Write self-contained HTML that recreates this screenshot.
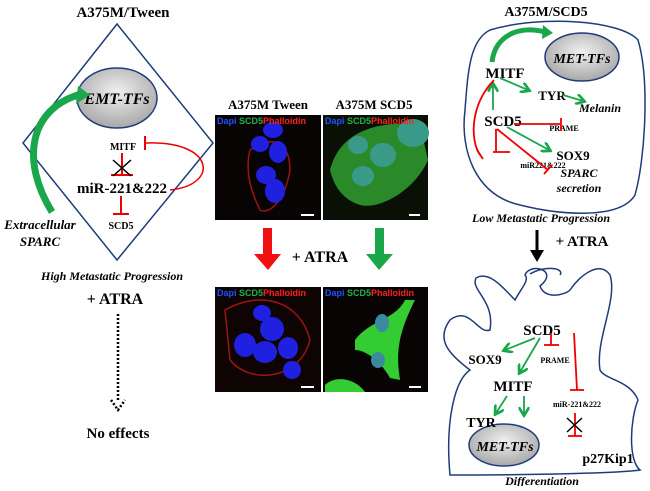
<!DOCTYPE html>
<html><head><style>
body{margin:0;width:650px;height:486px;background:#fff;overflow:hidden;font-family:"Liberation Serif",serif}
</style></head><body>
<svg width="650" height="486" viewBox="0 0 650 486" font-family="Liberation Serif, serif" font-weight="bold">
<defs>
<radialGradient id="g" cx="50%" cy="40%" r="60%"><stop offset="0" stop-color="#f0f0f0"/><stop offset="1" stop-color="#a8a8a8"/></radialGradient>
<marker id="ga" markerWidth="6" markerHeight="6" refX="4" refY="3" orient="auto"><path d="M0,0 L5,3 L0,6" fill="none" stroke="#1aa64a" stroke-width="1.5"/></marker>
<marker id="rt" markerWidth="4" markerHeight="12" refX="2" refY="6" orient="auto"><path d="M2,0 L2,12" stroke="#e00" stroke-width="2.5"/></marker>
<radialGradient id="cellB" cx="50%" cy="50%" r="50%"><stop offset="0" stop-color="#3030ff"/><stop offset="1" stop-color="#1010c0"/></radialGradient>
</defs>
<!-- LEFT -->
<text x="123" y="17" text-anchor="middle" font-size="15">A375M/Tween</text>
<polygon points="117,24 213,143 117,260 23,143" fill="none" stroke="#1f3c7a" stroke-width="1.5"/>
<ellipse cx="117" cy="98" rx="40" ry="30" fill="url(#g)" stroke="#1f3c7a" stroke-width="1.5"/>
<text x="117" y="104" text-anchor="middle" font-size="16" font-style="italic">EMT-TFs</text>
<path d="M52,212 C20,160 30,110 78,95" fill="none" stroke="#1aa64a" stroke-width="7"/>
<polygon points="78,86 90,95 76,104" fill="#1aa64a"/>
<text x="123" y="150" text-anchor="middle" font-size="10">MITF</text>
<line x1="122" y1="153" x2="122" y2="175" stroke="#e00" stroke-width="2"/>
<line x1="111" y1="175" x2="133" y2="175" stroke="#e00" stroke-width="2"/>
<path d="M113,160 L131,176 M131,160 L113,176" stroke="#000" stroke-width="1.5"/>
<text x="122" y="193" text-anchor="middle" font-size="15">miR-221&amp;222</text>
<path d="M170,190 C220,185 215,140 145,143" fill="none" stroke="#e00" stroke-width="1.5"/>
<line x1="145" y1="136" x2="145" y2="150" stroke="#e00" stroke-width="2"/>
<line x1="121" y1="196" x2="121" y2="214" stroke="#e00" stroke-width="2"/>
<line x1="113" y1="214" x2="129" y2="214" stroke="#e00" stroke-width="2"/>
<text x="121" y="229" text-anchor="middle" font-size="10">SCD5</text>
<text x="40" y="229" text-anchor="middle" font-size="13" font-style="italic">Extracellular</text>
<text x="40" y="246" text-anchor="middle" font-size="13" font-style="italic">SPARC</text>
<text x="112" y="280" text-anchor="middle" font-size="12" font-style="italic">High Metastatic Progression</text>
<text x="115" y="304" text-anchor="middle" font-size="16">+ ATRA</text>
<line x1="118" y1="314" x2="118" y2="402" stroke="#000" stroke-width="2.5" stroke-dasharray="2,2"/>
<path d="M111,400 L118,410 L125,400" fill="none" stroke="#000" stroke-width="2.5" stroke-dasharray="2,2"/>
<text x="118" y="438" text-anchor="middle" font-size="15">No effects</text>
<!-- MIDDLE -->
<text x="268" y="109" text-anchor="middle" font-size="13">A375M Tween</text>
<text x="374" y="109" text-anchor="middle" font-size="13">A375M SCD5</text>
<rect x="215" y="115" width="106" height="105" fill="#080404"/>
<rect x="323" y="115" width="105" height="105" fill="#0a1005"/>
<rect x="215" y="287" width="106" height="105" fill="#0e0404"/>
<rect x="323" y="287" width="105" height="105" fill="#080404"/>
<g stroke="#c01818" stroke-width="1.5" fill="none" opacity=".8">
<path d="M250,150 C270,135 290,140 290,170 C285,200 270,215 260,210 C250,190 245,170 250,150"/>
<path d="M225,310 C260,290 300,300 310,340 C300,380 250,385 230,360 Z"/>
</g>
<g fill="#2020e0">
<ellipse cx="273" cy="130" rx="10" ry="8"/><ellipse cx="278" cy="152" rx="9" ry="11"/><ellipse cx="260" cy="144" rx="9" ry="8"/><ellipse cx="266" cy="175" rx="10" ry="9"/><ellipse cx="275" cy="191" rx="10" ry="12"/>
<ellipse cx="245" cy="345" rx="11" ry="12"/><ellipse cx="272" cy="329" rx="12" ry="12"/><ellipse cx="288" cy="348" rx="10" ry="11"/><ellipse cx="265" cy="352" rx="12" ry="11"/><ellipse cx="262" cy="313" rx="9" ry="8"/><ellipse cx="292" cy="370" rx="9" ry="9"/>
</g>
<path d="M330,170 C340,130 380,120 420,125 L428,160 C415,190 380,210 360,205 C345,200 335,190 330,170Z" fill="#2a8a2a"/>
<g fill="#3a9a8a"><ellipse cx="413" cy="133" rx="16" ry="14"/><ellipse cx="383" cy="155" rx="13" ry="12"/><ellipse cx="363" cy="176" rx="11" ry="10"/><ellipse cx="358" cy="145" rx="10" ry="9"/></g>
<path d="M355,340 C370,320 395,320 405,300 L415,300 C400,330 395,350 400,380 L390,378 C380,360 365,350 355,350Z" fill="#33cc33"/>
<path d="M325,385 C335,375 355,378 365,392 L325,392Z" fill="#33cc33"/>
<g fill="#3a8aa0"><ellipse cx="382" cy="323" rx="7" ry="9"/><ellipse cx="378" cy="360" rx="7" ry="8"/></g>
<g font-size="9" font-family="Liberation Sans, sans-serif" font-weight="bold">
<text x="217" y="124"><tspan fill="#2050ff">Dapi </tspan><tspan fill="#20b050">SCD5</tspan><tspan fill="#ff2020">Phalloidin</tspan></text>
<text x="325" y="124"><tspan fill="#2050ff">Dapi </tspan><tspan fill="#20b050">SCD5</tspan><tspan fill="#ff2020">Phalloidin</tspan></text>
<text x="217" y="296"><tspan fill="#2050ff">Dapi </tspan><tspan fill="#20b050">SCD5</tspan><tspan fill="#ff2020">Phalloidin</tspan></text>
<text x="325" y="296"><tspan fill="#2050ff">Dapi </tspan><tspan fill="#20b050">SCD5</tspan><tspan fill="#ff2020">Phalloidin</tspan></text>
</g>
<g stroke="#fff" stroke-width="2"><line x1="301" y1="215" x2="314" y2="215"/><line x1="409" y1="215" x2="420" y2="215"/><line x1="301" y1="387" x2="314" y2="387"/><line x1="409" y1="387" x2="421" y2="387"/></g>
<polygon points="263,228 272,228 272,254 281,254 268,270 254,254 263,254" fill="#f01010"/>
<polygon points="375,228 384,228 384,254 393,254 379,270 366,254 375,254" fill="#1aa64a"/>
<text x="320" y="262" text-anchor="middle" font-size="16">+ ATRA</text>
<!-- RIGHT TOP -->
<text x="546" y="16" text-anchor="middle" font-size="14">A375M/SCD5</text>
<path d="M490,30 C540,15 620,20 638,40 C650,80 645,160 635,195 C620,220 560,215 520,205 C475,195 460,150 465,110 C468,70 470,40 490,30Z" fill="none" stroke="#1f3c7a" stroke-width="1.5"/>
<ellipse cx="582" cy="57" rx="37" ry="24" fill="url(#g)" stroke="#1f3c7a" stroke-width="1.5"/>
<text x="582" y="63" text-anchor="middle" font-size="14" font-style="italic">MET-TFs</text>
<path d="M492,62 C495,35 520,25 545,32" fill="none" stroke="#1aa64a" stroke-width="5"/>
<polygon points="543,25 553,33 542,39" fill="#1aa64a"/>
<text x="505" y="78" text-anchor="middle" font-size="15">MITF</text>
<text x="552" y="100" text-anchor="middle" font-size="13">TYR</text>
<text x="600" y="112" text-anchor="middle" font-size="12" font-style="italic">Melanin</text>
<text x="503" y="126" text-anchor="middle" font-size="15">SCD5</text>
<text x="564" y="131" text-anchor="middle" font-size="8">PRAME</text>
<text x="573" y="160" text-anchor="middle" font-size="13">SOX9</text>
<text x="543" y="168" text-anchor="middle" font-size="8">miR221&amp;222</text>
<text x="579" y="177" text-anchor="middle" font-size="12" font-style="italic">SPARC</text>
<text x="579" y="192" text-anchor="middle" font-size="12" font-style="italic">secretion</text>
<g stroke="#1aa64a" stroke-width="1.8" fill="none" marker-end="url(#ga)">
<line x1="493" y1="110" x2="493" y2="85"/><line x1="500" y1="78" x2="528" y2="90"/><line x1="563" y1="95" x2="583" y2="101"/><line x1="507" y1="127" x2="549" y2="150"/>
</g>
<g stroke="#e00" stroke-width="1.8" fill="none">
<path d="M494,80 C470,105 470,140 480,155"/><line x1="477" y1="150" x2="483" y2="159"/>
<path d="M496,129 L496,152 L493,152 L510,152"/><line x1="514" y1="124" x2="560" y2="124"/><line x1="561" y1="118" x2="561" y2="131"/>
<line x1="497" y1="129" x2="548" y2="170"/><line x1="544" y1="174" x2="552" y2="165"/>
</g>
<text x="541" y="222" text-anchor="middle" font-size="12" font-style="italic">Low Metastatic Progression</text>
<line x1="537" y1="230" x2="537" y2="254" stroke="#000" stroke-width="3"/>
<polygon points="530,250 544,250 537,262" fill="#000"/>
<text x="582" y="246" text-anchor="middle" font-size="15">+ ATRA</text>
<!-- RIGHT BOTTOM -->
<path d="M450,475 C445,420 455,380 470,370 C450,355 435,340 450,320 C470,305 478,335 490,330 C495,300 470,290 476,278 C490,270 505,290 515,300 C520,290 530,280 525,275 C530,262 560,270 540,286 C545,300 565,295 570,290 C580,275 600,260 610,275 C618,300 595,340 600,370 C605,380 630,380 638,400 C630,420 628,460 640,470 C620,473 540,475 450,475Z" fill="none" stroke="#1f3c7a" stroke-width="1.5"/>
<path d="M530,274 C545,265 565,268 560,275" fill="none" stroke="#1f3c7a" stroke-width="1.5"/>
<ellipse cx="504" cy="445" rx="35" ry="21" fill="url(#g)" stroke="#1f3c7a" stroke-width="1.5"/>
<text x="505" y="451" text-anchor="middle" font-size="14" font-style="italic">MET-TFs</text>
<text x="542" y="335" text-anchor="middle" font-size="15">SCD5</text>
<text x="485" y="364" text-anchor="middle" font-size="13">SOX9</text>
<text x="555" y="363" text-anchor="middle" font-size="8">PRAME</text>
<text x="513" y="391" text-anchor="middle" font-size="15">MITF</text>
<text x="577" y="407" text-anchor="middle" font-size="8">miR-221&amp;222</text>
<text x="481" y="427" text-anchor="middle" font-size="14">TYR</text>
<text x="608" y="463" text-anchor="middle" font-size="14">p27Kip1</text>
<text x="542" y="485" text-anchor="middle" font-size="12" font-style="italic">Differentiation</text>
<g stroke="#1aa64a" stroke-width="1.8" fill="none" marker-end="url(#ga)">
<line x1="535" y1="338" x2="505" y2="350"/><line x1="540" y1="338" x2="520" y2="372"/><line x1="507" y1="396" x2="496" y2="413"/><line x1="524" y1="396" x2="524" y2="414"/>
</g>
<g stroke="#e00" stroke-width="1.8" fill="none">
<line x1="551" y1="333" x2="551" y2="345"/><line x1="544" y1="345" x2="559" y2="345"/>
<line x1="574" y1="333" x2="577" y2="390"/><line x1="570" y1="390" x2="584" y2="390"/>
<line x1="575" y1="413" x2="575" y2="436"/><line x1="568" y1="436" x2="582" y2="436"/>
</g>
<path d="M567,418 L582,432 M582,418 L567,432" stroke="#000" stroke-width="1.5"/>
</svg>
</body></html>
